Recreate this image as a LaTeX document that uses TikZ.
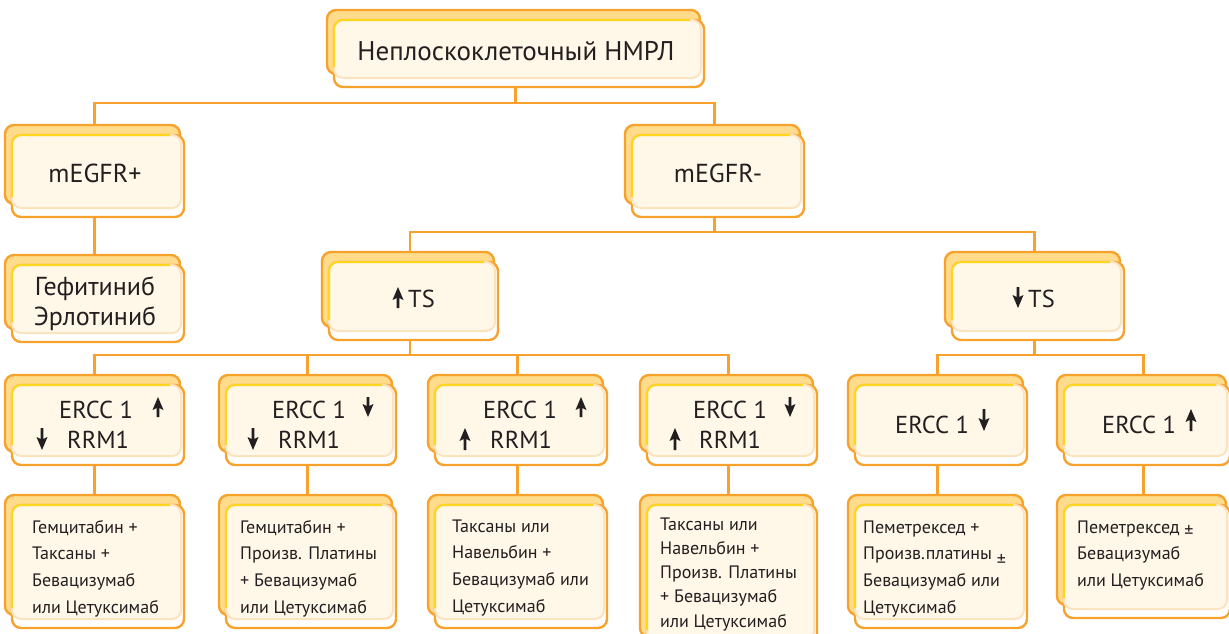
\documentclass[tikz,border=0pt]{standalone}
\usepackage{fontspec}
\setmainfont{PT Sans}
\usetikzlibrary{calc}
\definecolor{orng}{HTML}{F7A22C}
\definecolor{backf}{HTML}{FFDB8C}
\definecolor{yel}{HTML}{FFD61E}
\definecolor{cream}{HTML}{FFF7E8}
\definecolor{peach}{HTML}{FCE3BF}
\definecolor{txtc}{HTML}{231F20}
% #1 name, #2 x0, #3 y0, #4 x1 (back right), #5 y1 (outline bottom)
\newcommand\layerbox[5]{%
  \draw[orng, line width=2.4, fill=backf, rounded corners=9] (#2,#3) rectangle (#4,#5-13);
  \draw[orng, line width=2.4, fill=white, rounded corners=9] (#2+7,#3+10) rectangle (#4+4,#5);
  \draw[peach, line width=2, fill=cream, rounded corners=9] (#2+7,#3+10) rectangle (#4+1,#5-9);
  \draw[yel, line width=2, rounded corners=9] (#2+7,#5-20) -- (#2+7,#3+10) -- (#4-10,#3+10);
  \node[inner sep=0, outer sep=0, anchor=north west, minimum width={#4+4-(#2)}, minimum height={#5-(#3)}] (#1) at (#2,#3) {};
}
\newcommand\arrup[3]{% x, ytop, ybot
  \fill[txtc] (#1,#2) -- (#1+5.5,#2+13) -- (#1+1.3,#2+11) -- (#1+1.3,#3) -- (#1-1.3,#3) -- (#1-1.3,#2+11) -- (#1-5.5,#2+13) -- cycle;
}
\newcommand\arrdn[3]{% x, ytop, ybot
  \fill[txtc] (#1,#3) -- (#1+5.5,#3-13) -- (#1+1.3,#3-11) -- (#1+1.3,#2) -- (#1-1.3,#2) -- (#1-1.3,#3-11) -- (#1-5.5,#3-13) -- cycle;
}
\tikzset{
  conn/.style={orng, line width=2.4},
  bigtxt/.style={text=txtc, inner sep=0, font=\fontsize{27}{33}\selectfont},
  midtxt/.style={text=txtc, inner sep=0, font=\fontsize{24.5}{29}\selectfont},
  smalltxt/.style={text=txtc, inner sep=0, font=\fontsize{18}{26.7}\selectfont},
}
\begin{document}
\begin{tikzpicture}[x=1pt,y=-1pt]
\useasboundingbox (0,0) rectangle (1229,633);
\clip (0,0) rectangle (1229,633);
\fill[white] (0,0) rectangle (1229,633);
% boxes
\layerbox{root}{327}{10}{700}{87}
\layerbox{megp}{5}{125}{180}{217}
\layerbox{megm}{625}{125}{800}{217}
\layerbox{gef}{5}{255}{180}{342}
\layerbox{tsu}{322}{252}{494}{340}
\layerbox{tsd}{945}{252}{1120}{340}
\layerbox{e1}{5}{375}{180}{465}
\layerbox{e2}{219}{375}{392}{465}
\layerbox{e3}{428}{375}{603}{465}
\layerbox{e4}{640}{375}{813}{465}
\layerbox{e5}{848}{375}{1023}{465}
\layerbox{e6}{1057}{375}{1226}{465}
\layerbox{b1}{5}{495}{180}{628}
\layerbox{b2}{219}{495}{392}{628}
\layerbox{b3}{428}{495}{603}{628}
\layerbox{b4}{640}{495}{813}{650}
\layerbox{b5}{848}{495}{1023}{628}
\layerbox{b6}{1057}{495}{1226}{618}
% connectors
\draw[conn] (root.south) -- ++(0,16) coordinate (j1);
\draw[conn] (megp.north) |- (j1) -| (megm.north);
\draw[conn] (megp.south) -- (gef.north);
\draw[conn] (megm.south) -- ++(0,15) coordinate (j2);
\draw[conn] (tsu.north) |- (j2) -| (tsd.north);
\draw[conn] (tsu.south) -- ++(0,15) coordinate (j3);
\draw[conn] (e1.north) |- (j3) -| (e4.north);
\draw[conn] (e2.north) |- (j3);
\draw[conn] (e3.north) |- (j3);
\draw[conn] (tsd.south) -- ++(0,15) coordinate (j4);
\draw[conn] (e5.north) |- (j4) -| (e6.north);
\foreach \i in {1,...,6}{\draw[conn] (e\i.south) -- (b\i.north);}
% texts
\node[bigtxt, anchor=base] (troot) at (516,60) {Неплоскоклеточный НМРЛ};
\node[text=txtc, inner sep=0, font=\fontsize{26}{30}\selectfont, anchor=base] (tmegp) at (95,182) {mEGFR+};
\node[text=txtc, inner sep=0, font=\fontsize{26}{30}\selectfont, anchor=base] (tmegm) at (718,182) {mEGFR-};
\node[text=txtc, inner sep=0, font=\fontsize{26}{30}\selectfont, anchor=base] (tgef) at (95,295) {\begin{tabular}[t]{@{}c@{}}Гефитиниб\\Эрлотиниб\end{tabular}};
\node[midtxt, anchor=base west] (ttsu) at (408,307) {TS};
\node[midtxt, anchor=base west] (ttsd) at (1028,307) {TS};
\arrup{398}{287}{308}
\arrdn{1018}{287}{308}
% ERCC row
\node[midtxt, anchor=base west] (te1a) at (59,418) {ERCC 1};
\node[midtxt, anchor=base west] (te1b) at (67,448) {RRM1};
\arrup{158}{397}{417}
\arrdn{42}{428}{450}
\node[midtxt, anchor=base west] (te2a) at (272,418) {ERCC 1};
\node[midtxt, anchor=base west] (te2b) at (278,448) {RRM1};
\arrdn{368}{397}{417}
\arrdn{253}{428}{450}
\node[midtxt, anchor=base west] (te3a) at (483,418) {ERCC 1};
\node[midtxt, anchor=base west] (te3b) at (490,448) {RRM1};
\arrup{581}{397}{417}
\arrup{465}{428}{450}
\node[midtxt, anchor=base west] (te4a) at (693,418) {ERCC 1};
\node[midtxt, anchor=base west] (te4b) at (699,448) {RRM1};
\arrdn{790}{397}{417}
\arrup{675}{428}{450}
\node[midtxt, anchor=base west] (te5) at (895,433) {ERCC 1};
\arrdn{984}{409}{431}
\node[midtxt, anchor=base west] (te6) at (1102,433) {ERCC 1};
\arrup{1191}{409}{431}
% bottom row
\node[smalltxt, anchor=base west] (tb1) at (32,533) {\begin{tabular}[t]{@{}l@{}}Гемцитабин +\\Таксаны +\\Бевацизумаб\\или Цетуксимаб\end{tabular}};
\node[smalltxt, anchor=base west] (tb2) at (240,533) {\begin{tabular}[t]{@{}l@{}}Гемцитабин +\\Произв. Платины\\+ Бевацизумаб\\или Цетуксимаб\end{tabular}};
\node[smalltxt, anchor=base west] (tb3) at (452,532) {\begin{tabular}[t]{@{}l@{}}Таксаны или\\Навельбин +\\Бевацизумаб или\\Цетуксимаб\end{tabular}};
\node[text=txtc, inner sep=0, font=\fontsize{18}{24.3}\selectfont, anchor=base west] (tb4) at (660,530) {\begin{tabular}[t]{@{}l@{}}Таксаны или\\Навельбин +\\Произв. Платины\\+ Бевацизумаб\\или Цетуксимаб\end{tabular}};
\node[smalltxt, anchor=base west] (tb5) at (863,533) {\begin{tabular}[t]{@{}l@{}}Пеметрексед +\\Произв.платины \raisebox{-7pt}{±}\\Бевацизумаб или\\Цетуксимаб\end{tabular}};
\node[smalltxt, anchor=base west] (tb6) at (1077,533) {\begin{tabular}[t]{@{}l@{}}Пеметрексед \raisebox{-4pt}{±}\\Бевацизумаб\\или Цетуксимаб\end{tabular}};
\end{tikzpicture}
\end{document}
